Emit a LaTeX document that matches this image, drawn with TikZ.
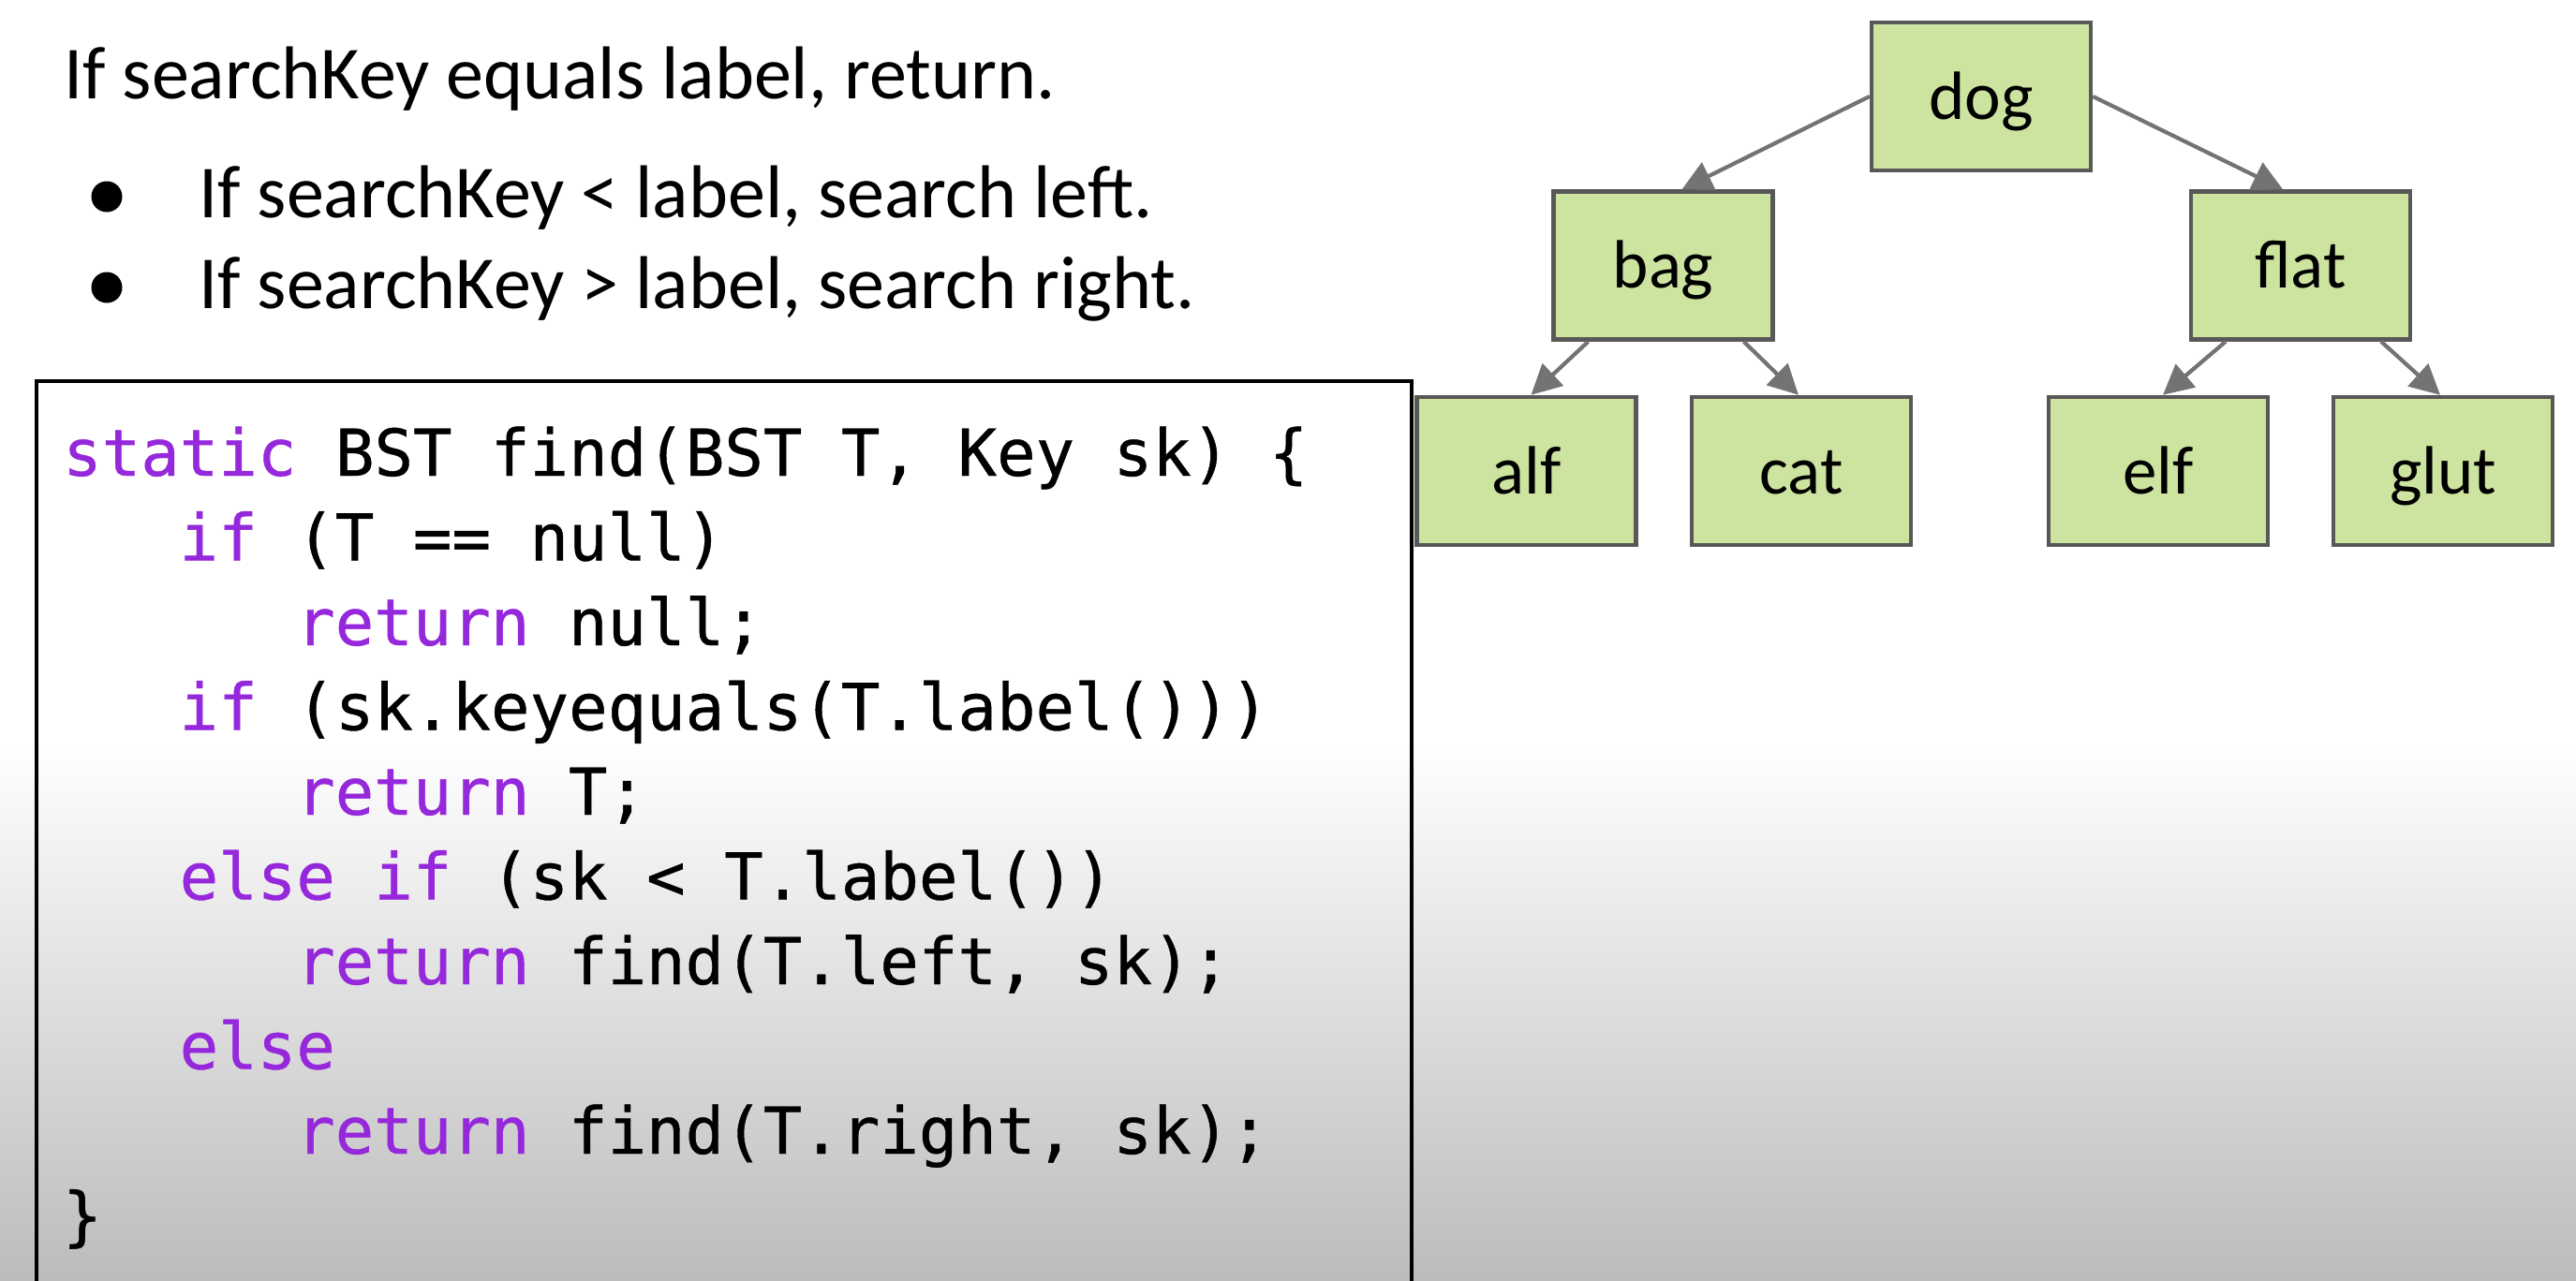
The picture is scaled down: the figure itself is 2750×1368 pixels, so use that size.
\documentclass[tikz,border=0pt]{standalone}
\usepackage{fontspec}
\setmainfont{Carlito}
\setmonofont[FakeBold=0.6]{DejaVu Sans Mono}
\usetikzlibrary{arrows.meta}
\definecolor{kw}{RGB}{150,40,220}
\definecolor{nodefill}{RGB}{205,228,160}
\definecolor{nodeline}{RGB}{88,88,88}
\definecolor{arrowgray}{RGB}{115,115,115}
\definecolor{bgbottom}{RGB}{188,188,188}
\begin{document}
\begin{tikzpicture}[x=1pt,y=-1pt,
  treenode/.style={draw=nodeline, line width=4.5pt, fill=nodefill,
    minimum width=234pt, minimum height=158pt, inner sep=0pt,
    font=\fontsize{73}{80}\selectfont, text height=48pt, text depth=0pt},
  edge/.style={draw=arrowgray, line width=4.2pt, -{Triangle[length=32pt,width=32pt]}},
  prose/.style={anchor=base west, inner sep=0pt, font=\fontsize{80}{90}\selectfont},
  codeline/.style={anchor=base west, inner sep=0pt, font=\ttfamily\fontsize{69}{80}\selectfont},
  bullet/.style={circle, fill=black, minimum size=33pt, inner sep=0pt}
]
% background
\useasboundingbox (0,0) rectangle (2750,1368);
\fill[white] (0,0) rectangle (2750,1368);
\shade[top color=white, bottom color=bgbottom] (0,790) rectangle (2750,1368);

% prose
\node[prose] (head) at (68,105) {If searchKey equals label, return.};
\node[bullet] (b1) at (114,210) {};
\node[bullet] (b2) at (114,307) {};
\node[prose] (l1) at (212,232) {If searchKey < label, search left.};
\node[prose] (l2) at (212,329) {If searchKey > label, search right.};

% code box
\draw[black, line width=3.5pt] (39,1380) -- (39,407) -- (1507,407) -- (1507,1380);
\node[codeline] (c1) at (67,508) {{\color{kw}static} BST find(BST T, Key sk) \{};
\node[codeline] (c2) at (191.5,598.5) {{\color{kw}if} (T == null)};
\node[codeline] (c3) at (316,689) {{\color{kw}return} null;};
\node[codeline] (c4) at (191.5,779.5) {{\color{kw}if} (sk.keyequals(T.label()))};
\node[codeline] (c5) at (316,870) {{\color{kw}return} T;};
\node[codeline] (c6) at (191.5,960.5) {{\color{kw}else if} (sk < T.label())};
\node[codeline] (c7) at (316,1051) {{\color{kw}return} find(T.left, sk);};
\node[codeline] (c8) at (191.5,1141.5) {{\color{kw}else}};
\node[codeline] (c9) at (316,1232) {{\color{kw}return} find(T.right, sk);};
\node[codeline] (c10) at (67,1322.5) {\}};

% tree
\node[treenode] (dog) at (2115,103) {dog};
\node[treenode] (bag) at (1775.5,283.5) {bag};
\node[treenode] (flat) at (2456,283.5) {flat};
\node[treenode] (alf) at (1629.5,503) {alf};
\node[treenode] (cat) at (1923,503) {cat};
\node[treenode] (elf) at (2304,503) {elf};
\node[treenode] (glut) at (2608,503) {glut};

\draw[edge] (dog.west) -- ([xshift=20pt]bag.north);
\draw[edge] (dog.east) -- ([xshift=-19pt]flat.north);
\draw[edge] ([xshift=-80pt]bag.south) -- ([xshift=5pt]alf.north);
\draw[edge] ([xshift=86pt]bag.south) -- ([xshift=-3pt]cat.north);
\draw[edge] ([xshift=-80pt]flat.south) -- ([xshift=5pt]elf.north);
\draw[edge] ([xshift=86pt]flat.south) -- ([xshift=-3pt]glut.north);
\end{tikzpicture}
\end{document}
